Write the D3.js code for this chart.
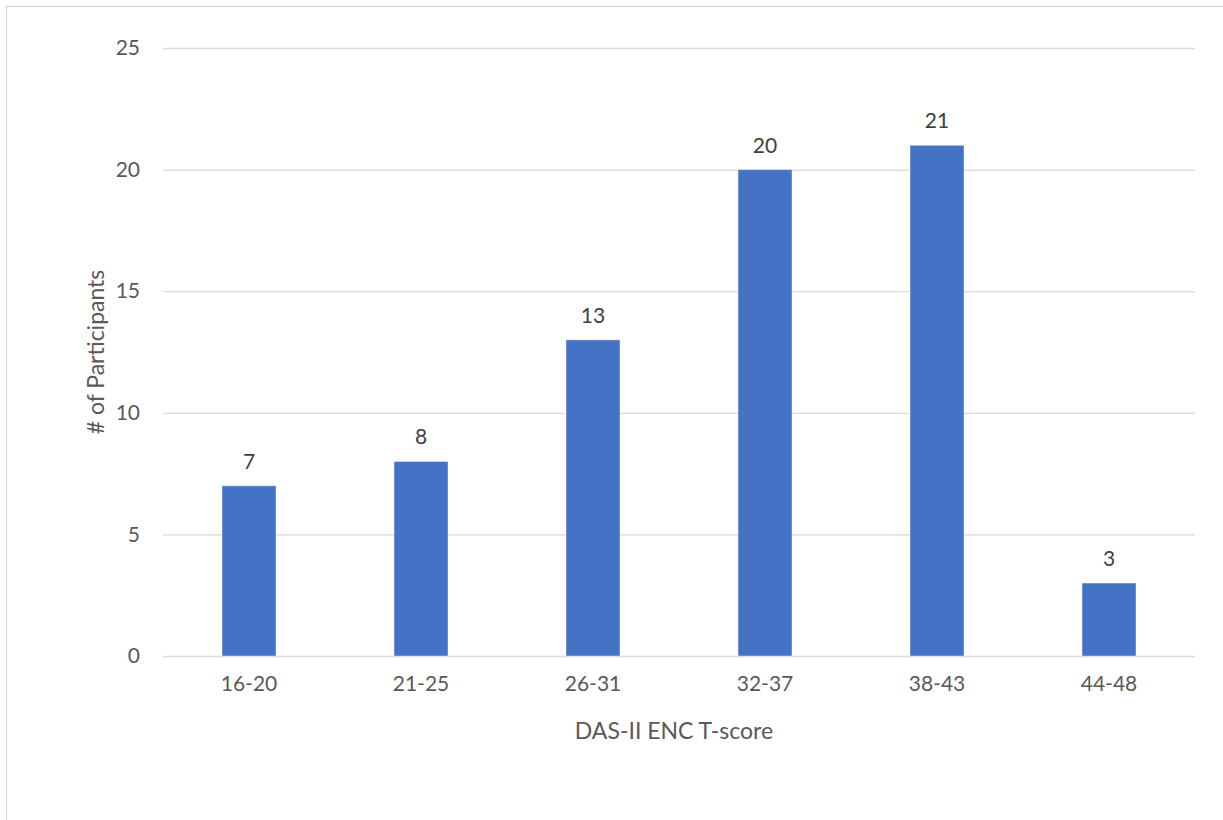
<!DOCTYPE html>
<html>
<head>
<meta charset="utf-8">
<script src="https://cdn.jsdelivr.net/npm/d3@7"></script>
<style>
  body { margin: 0; background: #fff; }
  text { font-family: Lato, "Open Sans", sans-serif; }
</style>
</head>
<body>
<div id="chart"></div>
<script>
var categories = ["16-20", "21-25", "26-31", "32-37", "38-43", "44-48"];
var participants = [7, 8, 13, 20, 21, 3];
var yTicks = [0, 5, 10, 15, 20, 25];
var xTitle = "DAS-II ENC T-score";
var yTitle = "# of Participants";

var W = 1223, H = 820;
var plotLeft = 163, plotRight = 1195, plotTop = 48, plotBottom = 656;

var svg = d3.select("#chart").append("svg")
	.attr("width", W)
	.attr("height", H);

// chart area border
svg.append("rect")
	.attr("x", 6.5)
	.attr("y", 6.5)
	.attr("width", W)
	.attr("height", H)
	.style("fill", "none")
	.style("stroke", "#d9d9d9")
	.style("stroke-width", 1.3);

var x = d3.scaleBand()
	.domain(categories)
	.range([plotLeft, plotRight])
	.paddingInner(0.686)
	.paddingOuter(0.343);

var y = d3.scaleLinear()
	.domain([0, 25])
	.range([plotBottom, plotTop]);

// gridlines + y labels
var yAxis = svg.append("g")
	.attr("transform", "translate(" + plotLeft + ",0)")
	.call(d3.axisLeft(y).tickValues(yTicks).tickSize(-(plotRight - plotLeft)).tickPadding(23));
yAxis.select(".domain").remove();
yAxis.selectAll(".tick line")
	.style("stroke", "#d9d9d9")
	.style("stroke-width", 1.3);
yAxis.selectAll(".tick text")
	.style("font-family", "Lato, 'Open Sans', sans-serif")
	.style("font-size", "21px")
	.style("fill", "#595959");

// bars
svg.selectAll("rect.bar")
	.data(participants)
	.enter()
	.append("rect")
	.attr("class", "bar")
	.attr("x", function (d, i) { return x(categories[i]); })
	.attr("y", function (d) { return y(d); })
	.attr("width", x.bandwidth())
	.attr("height", function (d) { return y(0) - y(d); })
	.style("fill", "#4472c4")
	.style("stroke", "#ffffff")
	.style("stroke-opacity", 0.45)
	.style("stroke-width", 1);

// data labels
svg.selectAll("text.val")
	.data(participants)
	.enter()
	.append("text")
	.attr("class", "val")
	.attr("x", function (d, i) { return x(categories[i]) + x.bandwidth() / 2; })
	.attr("y", function (d) { return y(d) - 17; })
	.attr("text-anchor", "middle")
	.style("font-size", "21px")
	.style("fill", "#404040")
	.text(function (d) { return d; });

// x category labels
var xAxis = svg.append("g")
	.attr("transform", "translate(0," + plotBottom + ")")
	.call(d3.axisBottom(x).tickSize(0).tickPadding(20));
xAxis.select(".domain").remove();
xAxis.selectAll(".tick text")
	.style("font-family", "Lato, 'Open Sans', sans-serif")
	.style("font-size", "21px")
	.style("fill", "#595959");

// axis titles
svg.append("text")
	.attr("x", 674)
	.attr("y", 739)
	.attr("text-anchor", "middle")
	.style("font-size", "23px")
	.style("fill", "#595959")
	.text(xTitle);

svg.append("text")
	.attr("transform", "translate(104," + ((plotTop + plotBottom) / 2) + ") rotate(-90)")
	.attr("text-anchor", "middle")
	.style("font-size", "23px")
	.style("fill", "#595959")
	.text(yTitle);
</script>
</body>
</html>
